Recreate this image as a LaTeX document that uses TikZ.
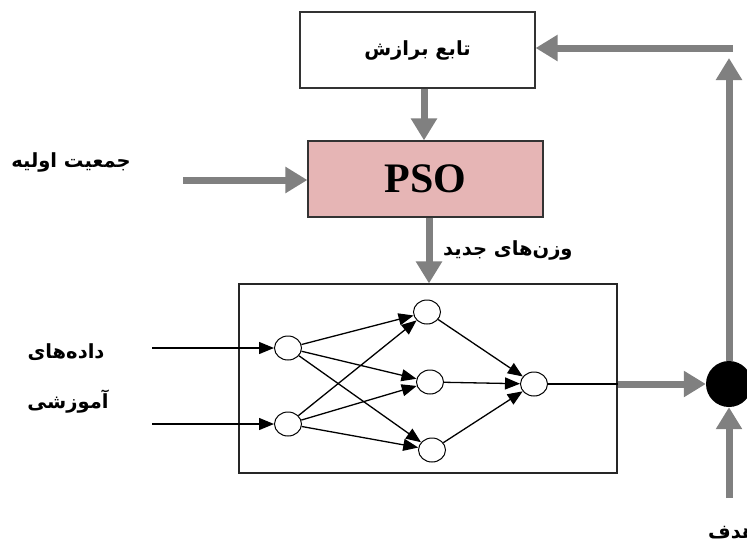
\documentclass[tikz,border=0pt]{standalone}
\usepackage{fontspec}
\setmainfont{Liberation Serif}
\newfontfamily\fa[Script=Arabic]{DejaVu Sans}
\TeXXeTstate=1
\usetikzlibrary{arrows.meta,shapes.geometric}
\definecolor{arrowgray}{HTML}{808080}
\definecolor{psopink}{HTML}{E6B5B5}
\begin{document}
\begin{tikzpicture}[x=1pt,y=-1pt,
  blockbox/.style={draw=black!80, line width=1.2pt, minimum width=235pt, minimum height=76pt, inner sep=0pt},
  fatarrow/.style={draw=arrowgray, line width=7pt, -{Triangle[width=25pt,length=22pt,fill=arrowgray]}},
  thinarrow/.style={line width=1.3pt, -{Triangle[width=12pt,length=15pt]}},
  neuron/.style={draw, ellipse, line width=1pt, minimum width=27pt, minimum height=24pt, inner sep=0pt, fill=white},
  fatext/.style={font=\fa\bfseries\fontsize{19.5}{22}\selectfont, inner sep=0pt}]
\useasboundingbox (0,0) rectangle (747,542);
% blocks
\node[blockbox, fatext] (fit) at (417.5,50) {\beginR تابع برازش\endR};
\node[blockbox, fill=psopink, font=\bfseries\fontsize{42}{44}\selectfont] (pso) at (425.5,179) {PSO};
\node[draw=black!85, line width=1.1pt, minimum width=378pt, minimum height=189pt, inner sep=0pt] (nn) at (428,378.5) {};
% labels
\node[fatext] (init) at (71,162) {\beginR جمعیت اولیه\endR};
\node[fatext, anchor=west] (neww) at (443,250) {\beginR وزن‌های جدید\endR};
\node[fatext] (data1) at (66,352) {\beginR داده‌های\endR};
\node[fatext] (data2) at (68,402) {\beginR آموزشی\endR};
\node[fatext, anchor=west] (goal) at (708,533) {\beginR هدف\endR};
% neurons
\node[neuron] (i1) at (288,348) {};
\node[neuron] (i2) at (288,424) {};
\node[neuron] (h1) at (427,312) {};
\node[neuron] (h2) at (430,382) {};
\node[neuron] (h3) at (432,450) {};
\node[neuron] (o) at (534,384) {};
\node[circle, fill=black, minimum size=46pt, inner sep=0pt] (bc) at (729,384) {};
% coordinates
\coordinate (in1) at (152,348);
\coordinate (in2) at (152,424);
\coordinate (initend) at (183,180);
\coordinate (ax1) at (424,0);
\coordinate (ax2) at (429,0);
\coordinate (corner) at (733,48);
\coordinate (uptip) at (729,58);
\coordinate (tgt) at (729,498);
% thin arrows
\draw[thinarrow] (in1) -- (i1);
\draw[thinarrow] (in2) -- (i2);
\foreach \a in {i1,i2}{\foreach \b in {h1,h2,h3}{\draw[thinarrow] (\a) -- (\b);}}
\foreach \b in {h1,h2,h3}{\draw[thinarrow] (\b) -- (o);}
\draw[line width=1.3pt] (o) -- (o -| nn.east);
% fat arrows
\draw[fatarrow] (fit.south -| ax1) -- (pso.north -| ax1);
\draw[fatarrow] (initend) -- (pso.west |- initend);
\draw[fatarrow] (pso.south -| ax2) -- (nn.north -| ax2);
\draw[fatarrow] (nn.east |- o) -- (bc);
\draw[fatarrow] (bc.north) -- (uptip);
\draw[fatarrow] (corner) -- (fit.east |- corner);
\draw[fatarrow] (tgt) -- (bc.south);
\end{tikzpicture}
\end{document}
